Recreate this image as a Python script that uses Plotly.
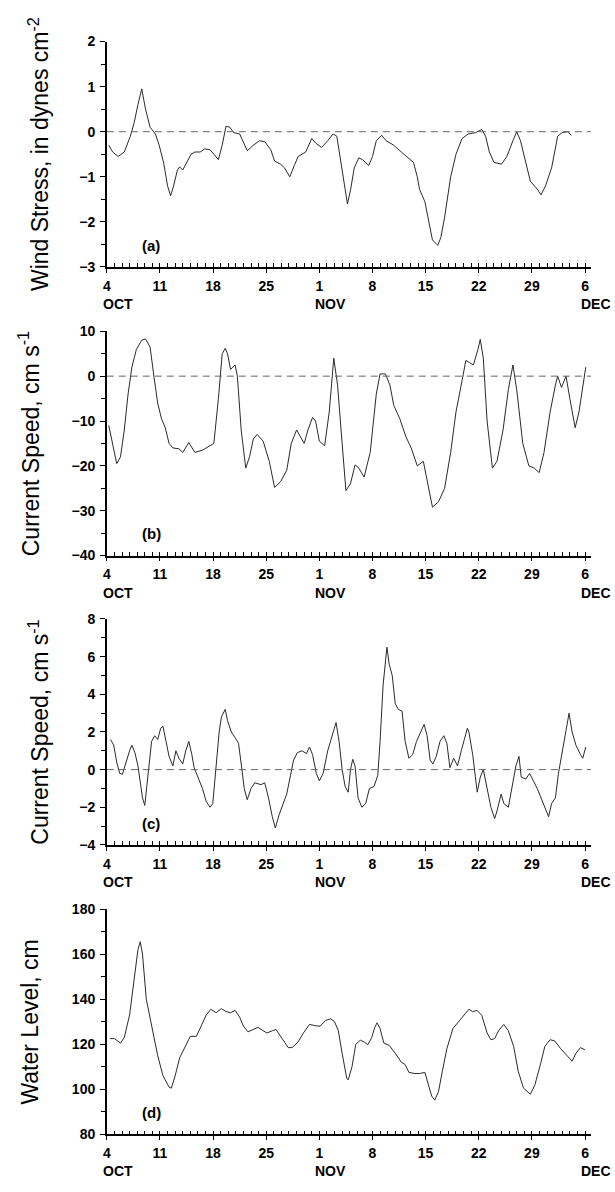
import plotly.graph_objects as go

# ---------------- data (day offset from 4 OCT) ----------------
a_day = [0.26, 0.77, 1.5, 2.3, 3.1, 3.6, 4.1, 4.6, 5.1, 5.7, 6.4, 6.9, 7.5, 8.0, 8.4, 8.8, 9.3, 9.6,
         10.0, 10.5, 11.1, 11.6, 12.3, 12.9, 13.6, 14.1, 14.7, 15.2, 15.7, 16.2, 16.7, 17.5, 18.0, 18.5,
         19.3, 20.1, 20.8, 21.6, 22.1, 22.9, 23.4, 24.1, 24.7, 25.2, 26.2, 27.0, 27.5, 28.3, 29.1, 29.8,
         30.3, 30.9, 31.4, 31.7, 32.1, 32.6, 33.2, 33.7, 34.5, 35.0, 35.5, 36.2, 36.8, 37.8, 38.8, 39.9,
         40.4, 40.9, 41.2, 41.9, 42.4, 42.9, 43.6, 44.0, 44.5, 45.3, 46.0, 46.8, 47.6, 48.6, 49.4, 49.9,
         50.4, 51.0, 52.0, 52.7, 53.5, 54.0, 54.5, 55.3, 55.8, 56.6, 57.2, 57.8, 58.6, 59.4, 60.0, 60.7, 61.2]
wind_stress = [-0.3, -0.45, -0.55, -0.45, -0.1, 0.2, 0.6, 0.95, 0.5, 0.1, -0.05, -0.3, -0.7, -1.2, -1.42,
               -1.2, -0.85, -0.78, -0.85, -0.7, -0.5, -0.45, -0.45, -0.38, -0.4, -0.5, -0.62, -0.3, 0.12,
               0.1, -0.02, -0.05, -0.25, -0.42, -0.3, -0.2, -0.22, -0.4, -0.65, -0.72, -0.8, -1.0, -0.75,
               -0.55, -0.45, -0.15, -0.25, -0.35, -0.2, -0.05, -0.1, -0.7, -1.3, -1.6, -1.3, -0.8, -0.58,
               -0.62, -0.75, -0.55, -0.2, -0.08, -0.2, -0.3, -0.45, -0.62, -0.68, -1.0, -1.28, -1.55, -2.0,
               -2.4, -2.52, -2.35, -1.9, -1.0, -0.5, -0.15, -0.05, -0.02, 0.05, -0.1, -0.45, -0.68, -0.72,
               -0.55, -0.2, 0.0, -0.2, -0.75, -1.1, -1.25, -1.4, -1.2, -0.8, -0.1, -0.02, 0.0, -0.08]

b_day = [0.26, 0.77, 1.3, 1.8, 2.3, 2.8, 3.3, 3.9, 4.6, 5.1, 5.7, 6.2, 6.7, 7.2, 7.7, 8.2, 8.7, 9.5, 10.0,
         10.8, 11.6, 12.6, 13.6, 14.1, 14.7, 15.2, 15.6, 15.9, 16.3, 16.9, 17.2, 17.7, 18.3, 18.8, 19.3,
         19.8, 20.6, 21.4, 22.1, 22.9, 23.7, 24.3, 25.0, 25.5, 26.0, 26.5, 27.1, 27.5, 28.0, 28.7, 29.3,
         29.9, 30.4, 31.0, 31.5, 32.1, 32.7, 33.2, 33.9, 34.7, 35.5, 36.0, 36.7, 37.3, 37.8, 38.6, 39.4,
         40.1, 40.9, 41.7, 42.2, 42.9, 43.7, 44.5, 45.3, 46.0, 46.8, 47.3, 47.8, 48.3, 48.9, 49.2, 49.6,
         50.1, 50.8, 51.4, 52.2, 52.9, 53.5, 54.0, 54.8, 55.6, 56.3, 56.96, 57.6, 58.4, 59.1, 59.4, 59.9,
         60.5, 61.0, 61.7, 62.2, 62.7, 63.1]
current_b = [-11, -15, -19.5, -18, -12, -4, 2, 6, 8, 8.3, 6.5, 0, -6, -9.5, -11.5, -15, -16, -16.2, -17,
             -14.8, -17, -16.5, -15.5, -15, -5, 5, 6.2, 5, 1.5, 2.5, 0, -12, -20.5, -18, -14, -13, -14.5,
             -19, -24.8, -23.5, -21, -15, -12, -13.5, -15, -12, -9.2, -10, -14.5, -15.5, -8, 4, -2, -15,
             -25.5, -24, -19.8, -20.5, -22.5, -17, -4, 0.5, 0.5, -2, -6.5, -9.5, -13.5, -16, -20, -19, -23,
             -29.2, -28, -25, -17, -8, -1, 3.5, 3, 2.5, 6, 8.2, 4, -10, -20.5, -19, -12, -3, 2.5, -3, -15,
             -20, -20.5, -21.5, -17, -8, -2, 0, -2.5, 0, -5, -11.5, -8, -2, 2]

c_day = [0.5, 0.9, 1.3, 1.7, 2.05, 2.5, 3.0, 3.3, 3.7, 4.1, 4.5, 4.7, 5.0, 5.4, 5.9, 6.3, 6.7, 7.1, 7.4,
         7.8, 8.2, 8.7, 9.1, 9.5, 10.0, 10.4, 10.8, 11.2, 11.5, 12.1, 12.6, 13.1, 13.6, 13.96, 14.4, 14.8,
         15.1, 15.6, 15.9, 16.4, 16.9, 17.35, 17.8, 18.1, 18.5, 19.0, 19.5, 20.3, 20.8, 21.3, 21.8, 22.2,
         22.7, 23.2, 23.7, 24.2, 24.6, 25.1, 25.7, 26.3, 26.7, 27.1, 27.6, 28.0, 28.5, 29.1, 29.8, 30.2,
         30.6, 31.0, 31.4, 31.8, 32.1, 32.4, 32.7, 33.1, 33.6, 34.1, 34.6, 35.2, 35.7, 36.0, 36.4, 36.9,
         37.2, 37.6, 38.0, 38.4, 38.9, 39.3, 39.8, 40.3, 40.8, 41.3, 41.8, 42.2, 42.6, 42.96, 43.4, 43.9,
         44.4, 44.8, 45.2, 45.7, 46.2, 46.7, 47.1, 47.5, 47.7, 48.2, 48.8, 49.2, 49.6, 50.0, 50.6, 51.1,
         51.4, 51.95, 52.3, 52.9, 53.4, 53.9, 54.3, 54.6, 55.2, 55.7, 56.2, 56.7, 57.2, 57.7, 58.2, 58.6,
         59.1, 59.5, 60.0, 60.6, 60.9, 61.3, 61.8, 62.4, 62.7, 63.1]
current_c = [1.6, 1.3, 0.4, -0.2, -0.25, 0.4, 1.0, 1.3, 0.9, 0.2, -0.8, -1.5, -1.9, -0.5, 1.5, 1.8, 1.6,
             2.2, 2.3, 1.5, 0.7, 0.2, 1.0, 0.6, 0.3, 1.0, 1.5, 0.8, 0.1, -0.5, -1.0, -1.7, -2.0, -1.8, 0.0,
             2.0, 2.8, 3.2, 2.6, 2.0, 1.7, 1.4, 0.0, -1.0, -1.6, -1.0, -0.7, -0.8, -0.7, -1.5, -2.5, -3.1,
             -2.4, -1.8, -1.3, -0.3, 0.5, 0.9, 1.0, 0.85, 1.2, 0.8, -0.2, -0.6, -0.2, 1.0, 2.0, 2.5, 1.5,
             0.0, -0.9, -1.2, 0.0, 0.55, 0.2, -1.5, -2.0, -1.8, -1.0, -0.9, -0.3, 1.5, 4.5, 6.5, 5.6, 5.0,
             3.5, 3.2, 3.1, 1.5, 0.6, 0.8, 1.5, 2.0, 2.4, 1.8, 0.5, 0.3, 0.7, 1.5, 1.8, 1.4, 0.1, 0.6, 0.2,
             1.0, 1.6, 2.2, 2.0, 0.8, -1.2, -0.4, 0.0, -0.8, -2.0, -2.6, -2.2, -1.3, -1.8, -2.0, -1.0, 0.2,
             0.7, -0.4, -0.5, -0.2, -0.6, -1.0, -1.5, -2.0, -2.5, -1.8, -1.5, -0.2, 1.0, 2.5, 3.0, 2.0, 1.3,
             0.8, 0.6, 1.2]

d_day = [0.4, 1.0, 1.8, 2.3, 3.0, 3.6, 4.1, 4.4, 4.7, 5.2, 5.9, 6.7, 7.4, 8.2, 8.5, 9.0, 9.6, 10.3, 11.0,
         11.8, 12.3, 13.1, 13.7, 14.4, 15.1, 15.7, 16.3, 16.9, 17.5, 18.0, 18.6, 19.3, 19.9, 20.6, 21.1,
         21.8, 22.3, 23.1, 23.9, 24.4, 25.2, 25.9, 26.7, 27.5, 28.1, 28.8, 29.5, 30.0, 30.5, 31.0, 31.6,
         31.8, 32.3, 32.8, 33.4, 33.9, 34.4, 34.9, 35.3, 35.6, 36.0, 36.5, 37.2, 38.0, 38.8, 39.3, 39.8,
         40.6, 41.2, 41.9, 42.4, 42.8, 43.2, 43.7, 44.2, 44.8, 45.6, 46.3, 47.1, 47.7, 48.2, 48.8, 49.4,
         50.1, 50.6, 51.1, 51.6, 52.3, 52.9, 53.6, 54.2, 54.9, 55.8, 56.4, 57.2, 57.7, 58.4, 59.0, 59.8,
         60.6, 61.3, 61.8, 62.4, 63.0]
water_level = [122.5, 122.5, 120.5, 123, 133, 148, 162, 165.5, 160, 140, 128, 115, 106, 101, 100.5, 106,
               114, 118.5, 123.5, 123.5, 127, 133, 135.5, 134, 135.8, 134.5, 134, 135, 132, 128, 125.5,
               126.5, 127.5, 126, 125, 126, 126.5, 122.5, 118.5, 118.5, 121, 125, 128.8, 128.2, 128, 130.5,
               131.3, 130, 126, 116, 105, 104.2, 110, 120, 121.8, 121, 119.8, 123, 127.5, 129.5, 127, 120.5,
               119.5, 116, 112, 111, 107.5, 107, 107, 107.5, 102, 97, 95.2, 99, 108, 118, 127, 130, 133,
               135.5, 134.5, 135, 132.8, 125, 122, 122.5, 126, 128.8, 126, 119, 108, 100.5, 97.8, 102, 112,
               119, 122, 121.5, 118, 115, 112.5, 116, 118.5, 117.5]

tick_days = [0, 7, 14, 21, 28, 35, 42, 49, 56, 63]
tick_text = ["4", "11", "18", "25", "1", "8", "15", "22", "29", "6"]
month_days = [0, 28, 63]
month_text = ["OCT", "NOV", "DEC"]

panels = [
    dict(x=a_day, y=wind_stress, rng=[-3, 2], dtick=1, title="Wind Stress, in dynes cm<sup>-2</sup>",
         label="(a)", zero=True, top=34.0, bot=262.5, tx=35),
    dict(x=b_day, y=current_b, rng=[-40, 10], dtick=10, title="Current Speed, cm s<sup>-1</sup>",
         label="(b)", zero=True, top=327.7, bot=555.0, tx=26),
    dict(x=c_day, y=current_c, rng=[-4, 8], dtick=2, title="Current Speed, cm s<sup>-1</sup>",
         label="(c)", zero=True, top=619.3, bot=848.3, tx=35),
    dict(x=d_day, y=water_level, rng=[80, 180], dtick=20, title="Water Level, cm",
         label="(d)", zero=False, top=913.3, bot=1141.7, tx=26),
]

W, H = 615, 1192
X0, PXDAY = 103.5, 7.64
XMAX = 63.8
xdom = [X0 / W, (X0 + XMAX * PXDAY) / W]

FAM = "Liberation Sans, Arial, sans-serif"
tickfont = dict(family=FAM, size=14, color="black", weight="bold")

fig = go.Figure()
layout = dict(width=W, height=H, margin=dict(l=0, r=0, t=0, b=0),
              paper_bgcolor="white", plot_bgcolor="white", showlegend=False,
              annotations=[], shapes=[])

for i, p in enumerate(panels):
    n = "" if i == 0 else str(i + 1)
    xa, ya = "x" + n, "y" + n
    fig.add_trace(go.Scatter(x=p["x"], y=p["y"], mode="lines", xaxis=xa, yaxis=ya,
                             line=dict(color="#2a2a2a", width=1), hoverinfo="skip"))
    ydom = [1 - p["bot"] / H, 1 - p["top"] / H]
    layout["xaxis" + n] = dict(
        domain=xdom, range=[0, XMAX], anchor=ya, showgrid=False, zeroline=False,
        showline=True, linecolor="black", linewidth=1.6,
        tickmode="array", tickvals=tick_days, ticktext=tick_text,
        ticks="outside", ticklen=4, tickwidth=1.4, tickcolor="black",
        tickfont=tickfont, ticklabelstandoff=1,
        minor=dict(tickmode="linear", tick0=0, dtick=1, ticks="inside", ticklen=4,
                   tickwidth=1, tickcolor="black"),
    )
    layout["yaxis" + n] = dict(
        domain=ydom, range=p["rng"], anchor=xa, showgrid=False, zeroline=False,
        showline=True, linecolor="black", linewidth=1.6,
        tickmode="linear", tick0=p["rng"][0], dtick=p["dtick"],
        ticks="outside", ticklen=5, tickwidth=1.2, tickcolor="black",
        tickfont=tickfont, ticklabelstandoff=2,
        minor=dict(tickmode="linear", tick0=p["rng"][0], dtick=p["dtick"] / 2, ticks="outside",
                   ticklen=4, tickwidth=1, tickcolor="black"),
    )
    if p["zero"]:
        layout["shapes"].append(dict(type="line", xref=xa, yref=ya, x0=0, x1=XMAX, y0=0, y1=0,
                                     line=dict(color="#666666", width=1, dash="7px,5px")))
    # y-axis title
    layout["annotations"].append(dict(
        text=p["title"], textangle=-90, xref="paper", yref="paper",
        x=p["tx"] / W, y=1 - (p["top"] + p["bot"]) / 2 / H, xanchor="center", yanchor="middle",
        showarrow=False, font=dict(family=FAM, size=23, color="black")))
    # panel label
    layout["annotations"].append(dict(
        text=p["label"], xref="paper", yref="paper", x=148 / W, y=1 - (p["bot"] - 22) / H,
        xanchor="center", yanchor="middle", showarrow=False,
        font=dict(family=FAM, size=15, color="black", weight="bold")))
    # month labels
    for md, mt in zip(month_days, month_text):
        layout["annotations"].append(dict(
            text=mt, xref=xa, yref=ya + " domain", x=md, y=0, xanchor="left", yanchor="top",
            xshift=-6, yshift=-27, showarrow=False, font=tickfont))

fig.update_layout(**layout)
fig.write_html("out.html", config={"displayModeBar": False},
               post_script="document.body.style.margin='0px';document.body.style.overflow='hidden';")
